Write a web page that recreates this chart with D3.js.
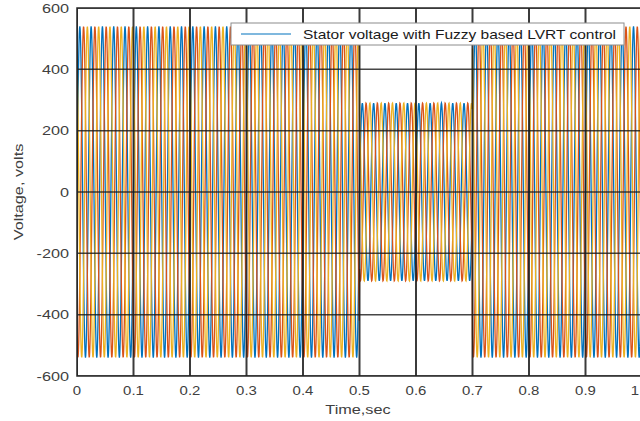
<!DOCTYPE html>
<html>
<head>
<meta charset="utf-8">
<script src="https://cdn.jsdelivr.net/npm/d3@7"></script>
<style>
  html, body { margin: 0; padding: 0; background: #fff; }
  svg { display: block; font-family: "Liberation Sans", Arial, sans-serif; }
</style>
</head>
<body>
<svg id="chart" width="640" height="421"></svg>
<script>
// Three-phase stator voltage: segments of constant peak amplitude (normal / sag / recovered)
const segStart = [0.0, 0.5, 0.7];
const segEnd   = [0.5, 0.7, 1.0];
const segPeak  = [540, 290, 540];          // volts
const phaseShiftDeg = [0, -120, 120];      // phases a, b, c
const phaseColors = ["#0072BD", "#D95319", "#EDB120"];
const freqHz = 50;
const sampleStep = 0.0005;                 // s

const xTicks = [0, 0.1, 0.2, 0.3, 0.4, 0.5, 0.6, 0.7, 0.8, 0.9, 1];
const yTicks = [-600, -400, -200, 0, 200, 400, 600];
const xTickLabels = ["0", "0.1", "0.2", "0.3", "0.4", "0.5", "0.6", "0.7", "0.8", "0.9", "1"];
const yTickLabels = ["-600", "-400", "-200", "0", "200", "400", "600"];
const legendLabel = "Stator voltage with Fuzzy based LVRT control";
const xTitle = "Time,sec";
const yTitle = "Voltage, volts";

const svg = d3.select("#chart");
const plotLeft = 77, plotRight = 642, plotTop = 8, plotBottom = 376;
const textGray = "#404040";
const stretch = 1.25;   // wide glyphs

const x = d3.scaleLinear().domain([0, 1]).range([plotLeft, plotRight]);
const y = d3.scaleLinear().domain([-600, 600]).range([plotBottom, plotTop]);

function peakAt(t) {
  for (let i = 0; i < segStart.length; i++) {
    if (t >= segStart[i] && t < segEnd[i]) return segPeak[i];
  }
  return segPeak[segPeak.length - 1];
}

const times = d3.range(0, 1 + sampleStep / 2, sampleStep);
const phases = phaseShiftDeg.map((deg, k) => ({
  color: phaseColors[k],
  values: times.map(t => ({
    t,
    v: peakAt(t) * Math.sin(2 * Math.PI * freqHz * t + deg * Math.PI / 180)
  }))
}));

svg.append("defs").append("clipPath").attr("id", "plotClip")
  .append("rect").attr("x", plotLeft).attr("y", plotTop)
  .attr("width", plotRight - plotLeft).attr("height", plotBottom - plotTop);

const plot = svg.append("g").attr("clip-path", "url(#plotClip)");
plot.append("rect").attr("x", plotLeft).attr("y", plotTop)
  .attr("width", plotRight - plotLeft).attr("height", plotBottom - plotTop).attr("fill", "#fff");

const line = d3.line().x(d => x(d.t)).y(d => y(d.v));
plot.selectAll("path.phase").data(phases).join("path")
  .attr("class", "phase")
  .attr("d", d => line(d.values))
  .attr("fill", "none")
  .attr("stroke", d => d.color)
  .attr("stroke-width", 1.3);

// grid over the traces
const grid = svg.append("g").attr("clip-path", "url(#plotClip)");
grid.selectAll("line.gx").data(xTicks).join("line")
  .attr("x1", d => x(d)).attr("x2", d => x(d))
  .attr("y1", plotTop).attr("y2", plotBottom)
  .attr("stroke", "#1a1a1a").attr("stroke-width", 2).attr("opacity", 0.85);
grid.selectAll("line.gy").data(yTicks).join("line")
  .attr("y1", d => y(d)).attr("y2", d => y(d))
  .attr("x1", plotLeft).attr("x2", plotRight)
  .attr("stroke", "#1a1a1a").attr("stroke-width", 1.5).attr("opacity", 0.8);

// frame
svg.append("rect").attr("x", plotLeft).attr("y", plotTop)
  .attr("width", plotRight - plotLeft).attr("height", plotBottom - plotTop)
  .attr("fill", "none").attr("stroke", "#262626").attr("stroke-width", 1.5);

// tick labels
const xLab = svg.append("g").selectAll("g").data(xTicks).join("g")
  .attr("transform", (d, i) => {
    const px = i === xTicks.length - 1 ? Math.min(x(d), 635) : x(d);
    return `translate(${px},${plotBottom + 19})`;
  });
xLab.append("text").attr("transform", "scale(1.15,1)")
  .attr("text-anchor", "middle").attr("font-size", 13).attr("fill", textGray)
  .text((d, i) => xTickLabels[i]);

const yLab = svg.append("g").selectAll("g").data(yTicks).join("g")
  .attr("transform", d => `translate(${plotLeft - 8},${y(d) + 4.5})`);
yLab.append("text").attr("transform", `scale(${stretch},1)`)
  .attr("text-anchor", "end").attr("font-size", 13).attr("fill", textGray)
  .text((d, i) => yTickLabels[i]);

// axis titles
svg.append("g").attr("transform", "translate(358,414)")
  .append("text").attr("transform", `scale(${stretch},1)`)
  .attr("text-anchor", "middle").attr("font-size", 13).attr("fill", textGray)
  .text(xTitle);
svg.append("g").attr("transform", `translate(23,${y(0)}) rotate(-90)`)
  .append("text").attr("transform", `scale(${stretch},1)`)
  .attr("text-anchor", "middle").attr("font-size", 13).attr("fill", textGray)
  .text(yTitle);

// legend
const lg = svg.append("g").attr("transform", "translate(231,23)");
lg.append("rect").attr("width", 393).attr("height", 22)
  .attr("fill", "#fff").attr("stroke", "#8c8c8c").attr("stroke-width", 1);
lg.append("line").attr("x1", 10).attr("x2", 60).attr("y1", 11).attr("y2", 11)
  .attr("stroke", phaseColors[0]).attr("stroke-width", 1.2);
lg.append("text").attr("x", 72).attr("y", 15.5).attr("font-size", 13)
  .attr("fill", "#1a1a1a").attr("textLength", 313).attr("lengthAdjust", "spacingAndGlyphs")
  .text(legendLabel);
</script>
</body>
</html>
